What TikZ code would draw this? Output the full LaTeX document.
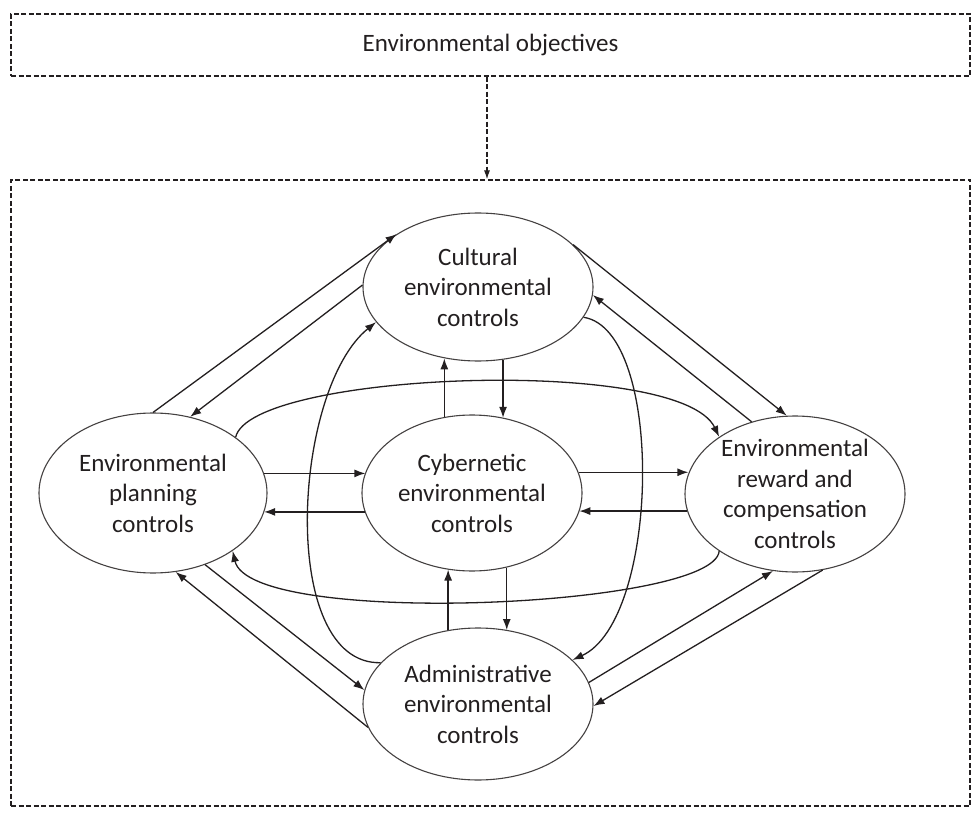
\documentclass[tikz,border=0pt]{standalone}
\usepackage{fontspec}
\setmainfont{Carlito}
\usetikzlibrary{shapes.geometric,arrows.meta,calc}
\definecolor{ink}{RGB}{35,31,32}
\begin{document}
\begin{tikzpicture}[x=1pt,y=-1pt,
  txt/.style={text=ink,font=\fontsize{25}{30.5}\selectfont},
  ctl/.style={ellipse,draw=ink!85,line width=1.1pt,inner sep=0pt,align=center,txt},
  dbox/.style={draw=ink,line width=1.2pt,dash pattern=on 5pt off 2.5pt},
  arr/.style={draw=ink,line width=1.3pt,-{Latex[length=11pt,width=8pt]}},
]
\useasboundingbox (0,0) rectangle (980,818);
% boxes
\node[dbox,txt,minimum width=959pt,minimum height=62pt,inner sep=0pt] (obj) at (490.5,45) {Environmental objectives};
\node[dbox,minimum width=959pt,minimum height=626pt,inner sep=0pt] (frame) at (490.5,493) {};
\draw[dbox,-{Latex[length=9pt,width=6pt]}] (obj.south -| 487,0) -- (frame.north -| 487,0);
% ellipses
\node[ctl,minimum width=228pt,minimum height=160pt] (plan) at (153,493) {Environmental\\planning\\controls};
\node[ctl,minimum width=230pt,minimum height=148pt] (cult) at (478,287) {Cultural\\environmental\\controls};
\node[ctl,minimum width=220pt,minimum height=156pt] (cyb) at (472,493) {Cybernetic\\environmental\\controls};
\node[ctl,minimum width=220pt,minimum height=156pt] (rew) at (795,494) {Environmental\\reward and\\compensation\\controls};
\node[ctl,minimum width=230pt,minimum height=152pt] (adm) at (478,704) {Administrative\\environmental\\controls};
% diagonals
\draw[arr] (plan.90) -- (cult.147);
\draw[arr] (cult.179) -- (plan.64);
\draw[arr] (cult.24) -- (rew.96);
\draw[arr] (rew.121) -- (cult.356);
\draw[arr] (plan.306) -- (adm.173);
\draw[arr] (adm.192) -- (plan.286);
\draw[arr] (adm.11) -- (rew.254);
\draw[arr] (rew.290) -- (adm.359);
% horizontals
\draw[arr] (plan.10) -- (plan.10 -| cyb.169);
\draw[arr] (cyb.190) -- (cyb.190 -| plan.350);
\draw[arr] (cyb.11) -- (cyb.11 -| rew.169);
\draw[arr] (rew.189) -- (rew.189 -| cyb.350);
% verticals
\draw[arr] (cyb.110) -- (cyb.110 |- cult.245);
\draw[arr] (cult.289) -- (cult.289 |- cyb.67);
\draw[arr] (adm.112) -- (adm.112 |- cyb.252);
\draw[arr] (cyb.295) -- (cyb.295 |- adm.68);
% long curves
\draw[arr] (plan.34) .. controls (250,372) and (680,355) .. (rew.143);
\draw[arr] (rew.217) .. controls (714,608) and (250,628) .. (plan.324);
\draw[arr] (adm.157) .. controls (278,665) and (292,390) .. (cult.199);
\draw[arr] (cult.344) .. controls (665,330) and (660,620) .. (adm.25);
\end{tikzpicture}
\end{document}
